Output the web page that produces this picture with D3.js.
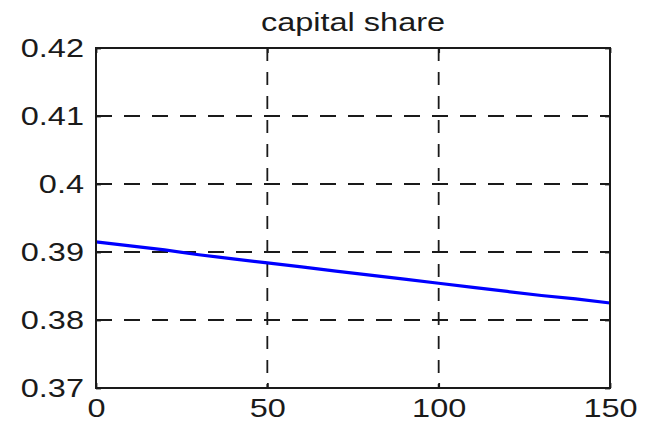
<!DOCTYPE html>
<html>
<head>
<meta charset="utf-8">
<script src="https://cdn.jsdelivr.net/npm/d3@7"></script>
<style>
  body { margin: 0; background: #fff; }
  text { font-family: "Liberation Sans", Arial, sans-serif; fill: #1a1a1a; }
</style>
</head>
<body>
<div id="graphic"></div>
<script>
// data
const periods = [0, 10, 20, 30, 40, 50, 60, 70, 80, 90, 100, 110, 120, 130, 140, 150];
const capitalShare = [0.3915, 0.3909, 0.3903, 0.3896, 0.3890, 0.3884, 0.3878, 0.3872,
  0.3866, 0.3860, 0.3854, 0.3848, 0.3842, 0.3836, 0.3831, 0.3825];
const xTicks = [0, 50, 100, 150];
const yTicks = [0.37, 0.38, 0.39, 0.40, 0.41, 0.42];
const title = "capital share";

const width = 646, height = 429;
const margin = { top: 48, right: 36, bottom: 41, left: 96 };
const chartWidth = width - margin.left - margin.right;
const chartHeight = height - margin.top - margin.bottom;
const stretch = 1.3; // the picture's text is stretched horizontally

const data = periods.map((p, i) => ({ t: p, v: capitalShare[i] }));

const svg = d3.select('#graphic').append('svg')
  .attr('width', width)
  .attr('height', height)
  .append('g')
  .attr('transform', `translate(${margin.left},${margin.top})`);

const x = d3.scaleLinear().domain([0, 150]).range([0, chartWidth]);
const y = d3.scaleLinear().domain([0.37, 0.42]).range([chartHeight, 0]);

// grid lines (MATLAB style dashes)
svg.append('g')
  .selectAll('line')
  .data(xTicks.slice(1, -1))
  .join('line')
  .attr('x1', d => x(d)).attr('x2', d => x(d))
  .attr('y1', 0).attr('y2', chartHeight)
  .attr('stroke', '#1a1a1a').attr('stroke-width', 1.8)
  .attr('stroke-dasharray', '13,11');

svg.append('g')
  .selectAll('line')
  .data(yTicks.slice(1, -1))
  .join('line')
  .attr('x1', 0).attr('x2', chartWidth)
  .attr('y1', d => y(d)).attr('y2', d => y(d))
  .attr('stroke', '#1a1a1a').attr('stroke-width', 1.8)
  .attr('stroke-dasharray', '16,12');

// the line
svg.append('path')
  .datum(data)
  .attr('fill', 'none')
  .attr('stroke', '#0000ff')
  .attr('stroke-width', 3.2)
  .attr('d', d3.line().x(d => x(d.t)).y(d => y(d.v)));

// axes, ticks pointing inwards
const xAxis = svg.append('g')
  .attr('transform', `translate(0,${chartHeight})`)
  .call(d3.axisBottom(x).tickValues(xTicks).tickSize(-5).tickPadding(0).tickFormat(d3.format('d')));

const yAxis = svg.append('g')
  .call(d3.axisLeft(y).tickValues(yTicks).tickSize(-5).tickPadding(0).tickFormat(d => d3.format('.2~f')(d)));

// ticks on the top and right edges, no labels
const xTop = svg.append('g')
  .call(d3.axisTop(x).tickValues(xTicks).tickSize(-5).tickFormat(''));
const yRight = svg.append('g')
  .attr('transform', `translate(${chartWidth},0)`)
  .call(d3.axisRight(y).tickValues(yTicks).tickSize(-5).tickFormat(''));

[xAxis, yAxis, xTop, yRight].forEach(ax => {
  ax.select('.domain').remove();
  ax.selectAll('.tick line').attr('stroke', '#1a1a1a').attr('stroke-width', 1.8);
  ax.selectAll('text').attr('font-size', 25).attr('fill', '#1a1a1a')
    .attr('font-family', '"Liberation Sans", Arial, sans-serif');
});

xAxis.selectAll('.tick text')
  .attr('y', 0).attr('dy', '0.71em')
  .attr('transform', `translate(0,11) scale(${stretch},1)`);

yAxis.selectAll('.tick text')
  .attr('x', 0).attr('dy', '0.34em')
  .attr('transform', `translate(-12,0) scale(${stretch},1)`);

// frame
svg.append('rect')
  .attr('width', chartWidth).attr('height', chartHeight)
  .attr('fill', 'none').attr('stroke', '#1a1a1a').attr('stroke-width', 2);

// title
svg.append('text')
  .attr('transform', `translate(${chartWidth / 2},-17) scale(${stretch},1)`)
  .attr('text-anchor', 'middle')
  .attr('font-size', 25)
  .text(title);
</script>
</body>
</html>
